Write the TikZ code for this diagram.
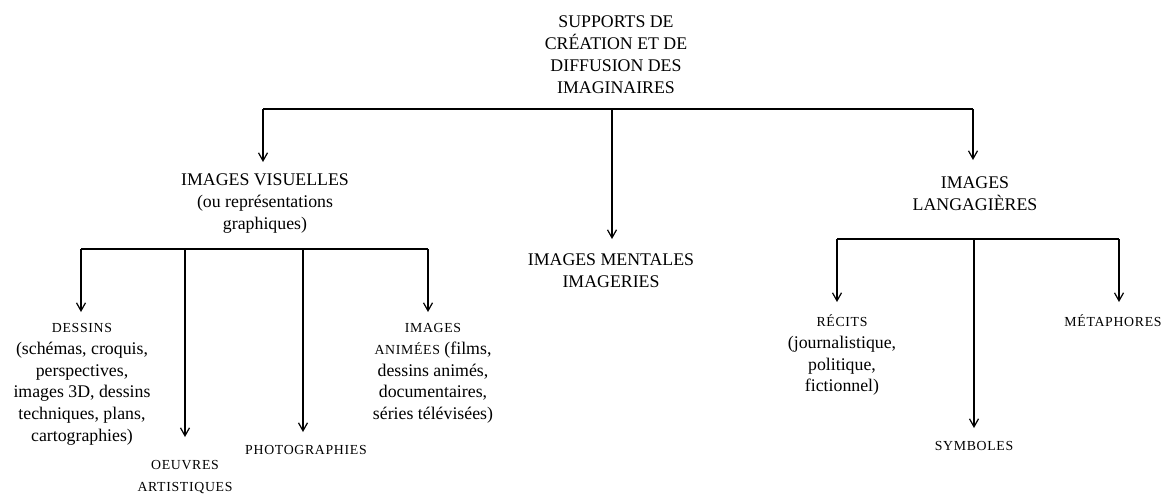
\documentclass[tikz,border=0pt]{standalone}
\usepackage{fontspec}
\setmainfont{Liberation Serif}
\newfontfamily\scf[LetterSpace=5]{Liberation Serif}
\usetikzlibrary{arrows.meta}
\newcommand\sct[1]{{\scf\fontsize{13.8}{21.7}\selectfont #1}}
\begin{document}
\begin{tikzpicture}[x=1pt,y=-1pt,
  lbl/.style={align=center, inner sep=0pt, anchor=north, font=\fontsize{17.8}{21.7}\selectfont},
  link/.style={line width=1.2pt},
  arr/.style={link, -{Straight Barb[length=8pt,width=9pt]}}]
\useasboundingbox (0,0) rectangle (1167,493);
% root
\node[lbl] (title) at (616,16) {SUPPORTS DE\\CRÉATION ET DE\\DIFFUSION DES\\IMAGINAIRES};
\coordinate (tL) at (263,109);
\coordinate (tM) at (612,109);
\coordinate (tR) at (973,109);
\draw[link] (tL) -- (tR);
% level 1
\node[lbl, outer ysep=12pt] (vis) at (265,162) {IMAGES VISUELLES\\(ou représentations\\graphiques)};
\node[lbl, outer ysep=15pt] (men) at (611,239) {IMAGES MENTALES\\IMAGERIES};
\node[lbl, outer ysep=17pt] (lang) at (975,160) {IMAGES\\LANGAGIÈRES};
\draw[arr] (tL) -- (tL |- vis.north);
\draw[arr] (tM) -- (tM |- men.north);
\draw[arr] (tR) -- (tR |- lang.north);
% left subtree
\coordinate (v1) at (81,249);
\coordinate (v2) at (185,249);
\coordinate (v3) at (303,249);
\coordinate (v4) at (428,249);
\draw[link] (v1) -- (v4);
\node[lbl, outer ysep=11.5pt] (des) at (82,312) {\sct{DESSINS}\\(schémas, croquis,\\perspectives,\\images 3D, dessins\\techniques, plans,\\cartographies)};
\node[lbl, outer ysep=23.5pt] (oeu) at (185,437) {\sct{OEUVRES}\\\sct{ARTISTIQUES}};
\node[lbl, outer ysep=13.5pt] (pho) at (306,432) {\sct{PHOTOGRAPHIES}};
\node[lbl, outer ysep=11.5pt] (ani) at (433,312) {\sct{IMAGES}\\\sct{ANIMÉES} (films,\\dessins animés,\\documentaires,\\séries télévisées)};
\draw[arr] (v1) -- (v1 |- des.north);
\draw[arr] (v2) -- (v2 |- oeu.north);
\draw[arr] (v3) -- (v3 |- pho.north);
\draw[arr] (v4) -- (v4 |- ani.north);
% right subtree
\coordinate (r1) at (837,239);
\coordinate (r2) at (974,239);
\coordinate (r3) at (1119,239);
\draw[link] (r1) -- (r3);
\node[lbl, outer ysep=15.5pt] (rec) at (842,302) {\sct{\smash{RÉCITS}\vphantom{S}}\\(journalistique,\\politique,\\fictionnel)};
\node[lbl, outer ysep=13.5pt] (sym) at (974,428) {\sct{SYMBOLES}};
\node[lbl, outer ysep=15.5pt] (met) at (1113,302) {\sct{\smash{MÉTAPHORES}\vphantom{S}}};
\draw[arr] (r1) -- (r1 |- rec.north);
\draw[arr] (r2) -- (r2 |- sym.north);
\draw[arr] (r3) -- (r3 |- met.north);
\end{tikzpicture}
\end{document}
